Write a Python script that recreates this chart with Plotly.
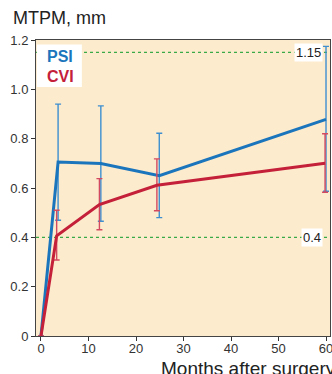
import plotly.graph_objects as go

# Data
months_psi = [0, 3.6, 12.6, 24.9, 60]
psi = [0, 0.705, 0.699, 0.650, 0.878]
psi_err_up = [0, 0.235, 0.234, 0.172, 0.296]
psi_err_down = [0, 0.236, 0.234, 0.170, 0.291]

months_cvi = [0, 3.3, 12.3, 24.4, 59.8]
cvi = [0, 0.406, 0.533, 0.611, 0.700]
cvi_err_up = [0, 0.104, 0.105, 0.107, 0.120]
cvi_err_down = [0, 0.098, 0.102, 0.103, 0.117]

x_ticks = [0, 10, 20, 30, 40, 50, 60]
y_ticks = [0, 0.2, 0.4, 0.6, 0.8, 1.0, 1.2]
y_ticktext = ["0", "0.2", "0.4", "0.6", "0.8", "1.0", "1.2"]
ref_lines = [1.15, 0.4]
ref_labels = ["1.15", "0.4"]

FONT = "Liberation Sans, Arial, sans-serif"
BLUE = "#1b75bc"
RED = "#c4203a"
GREEN = "#3aaa48"

fig = go.Figure()

for yv in ref_lines:
    fig.add_shape(type="line", xref="paper", x0=0, x1=1, yref="y", y0=yv, y1=yv,
                  line=dict(color=GREEN, width=1.2, dash="3px,3px"), layer="below")

fig.add_trace(go.Scatter(
    x=months_psi, y=psi, mode="lines",
    line=dict(color=BLUE, width=3),
    error_y=dict(type="data", symmetric=False, array=psi_err_up, arrayminus=psi_err_down,
                 color="#3d8fd0", thickness=1.4, width=3),
    showlegend=False, cliponaxis=False))

fig.add_trace(go.Scatter(
    x=months_cvi, y=cvi, mode="lines",
    line=dict(color=RED, width=3),
    error_y=dict(type="data", symmetric=False, array=cvi_err_up, arrayminus=cvi_err_down,
                 color="#d34a60", thickness=1.4, width=3),
    showlegend=False, cliponaxis=False))

# legend box
fig.add_shape(type="rect", xref="paper", yref="paper", x0=0.003, x1=0.156, y0=0.841, y1=0.985,
              fillcolor="white", line=dict(width=0), layer="above")
fig.add_annotation(xref="paper", yref="paper", x=0.082, y=0.943, text="<b>PSI</b>",
                   xanchor="center", yanchor="middle",
                   showarrow=False, font=dict(family=FONT, size=16, color=BLUE))
fig.add_annotation(xref="paper", yref="paper", x=0.082, y=0.876, text="<b>CVI</b>",
                   xanchor="center", yanchor="middle",
                   showarrow=False, font=dict(family=FONT, size=16, color=RED))

for yv, lbl in zip(ref_lines, ref_labels):
    fig.add_annotation(x=59.3, y=yv, xref="x", yref="y", text=lbl, showarrow=False,
                       xanchor="right", yanchor="middle", bgcolor="white", borderpad=1,
                       font=dict(family=FONT, size=13, color="#222"))

# title texts
fig.add_annotation(xref="paper", yref="paper", x=-0.085, y=1.075, xanchor="left", yanchor="middle",
                   text="MTPM, mm", showarrow=False, font=dict(family=FONT, size=18, color="#222"))
fig.add_annotation(xref="paper", yref="paper", x=0.420, y=-0.11, xanchor="left", yanchor="middle",
                   text="Months after surgery", showarrow=False,
                   font=dict(family=FONT, size=19, color="#222"))

fig.update_layout(
    width=332, height=374,
    margin=dict(l=36, r=2, t=40, b=38, autoexpand=False),
    paper_bgcolor="white",
    plot_bgcolor="#fdebcd",
    font=dict(family=FONT, size=13, color="#333"),
    xaxis=dict(range=[-1.05, 60.84], tickvals=x_ticks, ticks="outside", ticklen=4,
               tickcolor="#333", showline=True, linecolor="#444", linewidth=1, mirror=True,
               showgrid=False, zeroline=False, automargin=False, ticklabeloverflow="allow",
               ticklabelstandoff=-4,
               tickfont=dict(size=13, color="#333")),
    yaxis=dict(range=[0, 1.2], tickvals=y_ticks, ticktext=y_ticktext, ticks="outside", ticklen=4,
               tickcolor="#333", showline=True, linecolor="#444", linewidth=1, mirror=True,
               showgrid=False, zeroline=False, automargin=False, ticklabeloverflow="allow",
               tickfont=dict(size=13, color="#333")),
)

fig.write_html("out.html", config={"displayModeBar": False},
               post_script="document.body.style.margin='0';document.body.style.overflow='hidden';")
